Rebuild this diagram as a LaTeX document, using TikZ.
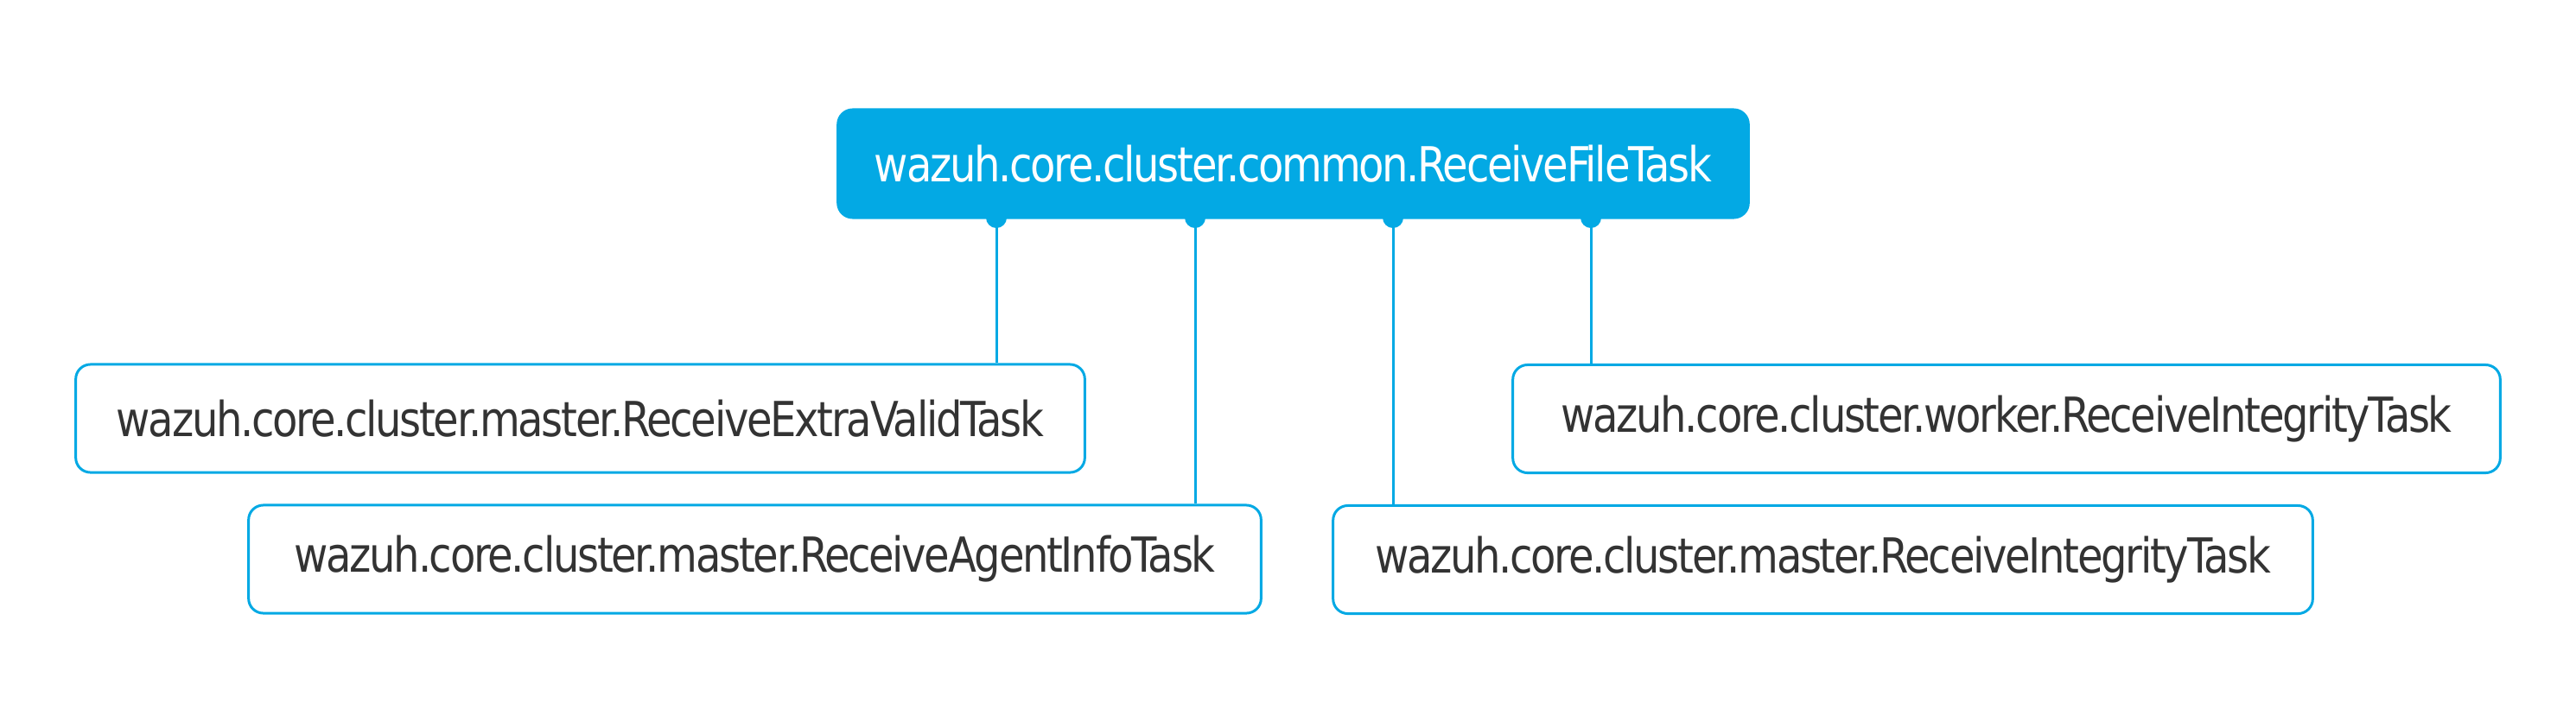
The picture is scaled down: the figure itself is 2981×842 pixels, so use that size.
\documentclass[tikz,border=0pt]{standalone}
\usepackage{fontspec}
\setmainfont{DejaVu Sans}[LetterSpace=-4.8]
\usetikzlibrary{positioning}
\definecolor{wzblue}{HTML}{03A9E4}
\definecolor{wztext}{HTML}{333333}
\def \px {0.01cm}
\newcommand{\cls}[1]{\scalebox{0.86}[1]{#1}}

\begin{document}
\begin{tikzpicture}[x=\px,y=-\px,
    task/.style={draw=wzblue,line width=0.85pt,rounded corners=0.17cm,fill=white,text=wztext,
      minimum height=1.25cm,inner sep=0pt,font=\fontsize{15.9}{19}\selectfont},
    base/.style={task,fill=wzblue,text=white},
    link/.style={draw=wzblue,line width=0.85pt}]
    \useasboundingbox (0,0) rectangle (2981,842);
    \node[base,minimum width=10.53cm] (common) at (1496.5,189.5) {\cls{wazuh.core.cluster.common.ReceiveFileTask}};
    \node[task,minimum width=11.67cm] (extra) at (671.5,484.5) {\cls{wazuh.core.cluster.master.ReceiveExtraValidTask}};
    \node[task,minimum width=11.71cm] (agent) at (873.5,647.5) {\cls{wazuh.core.cluster.master.ReceiveAgentInfoTask}};
    \node[task,minimum width=11.33cm] (mint) at (2109.5,648) {\cls{wazuh.core.cluster.master.ReceiveIntegrityTask}};
    \node[task,minimum width=11.42cm] (wint) at (2322,485) {\cls{wazuh.core.cluster.worker.ReceiveIntegrityTask}};
    % one link per subclass
    \foreach \xp/\n in {1153/extra,1383/agent,1612/mint,1841/wint} {
      \coordinate (o\n) at (\xp,252);
      \fill[wzblue] (o\n) circle (0.12cm);
      \draw[link] (o\n) -- (o\n |- \n.north);
    }
  \end{tikzpicture}
\end{document}
